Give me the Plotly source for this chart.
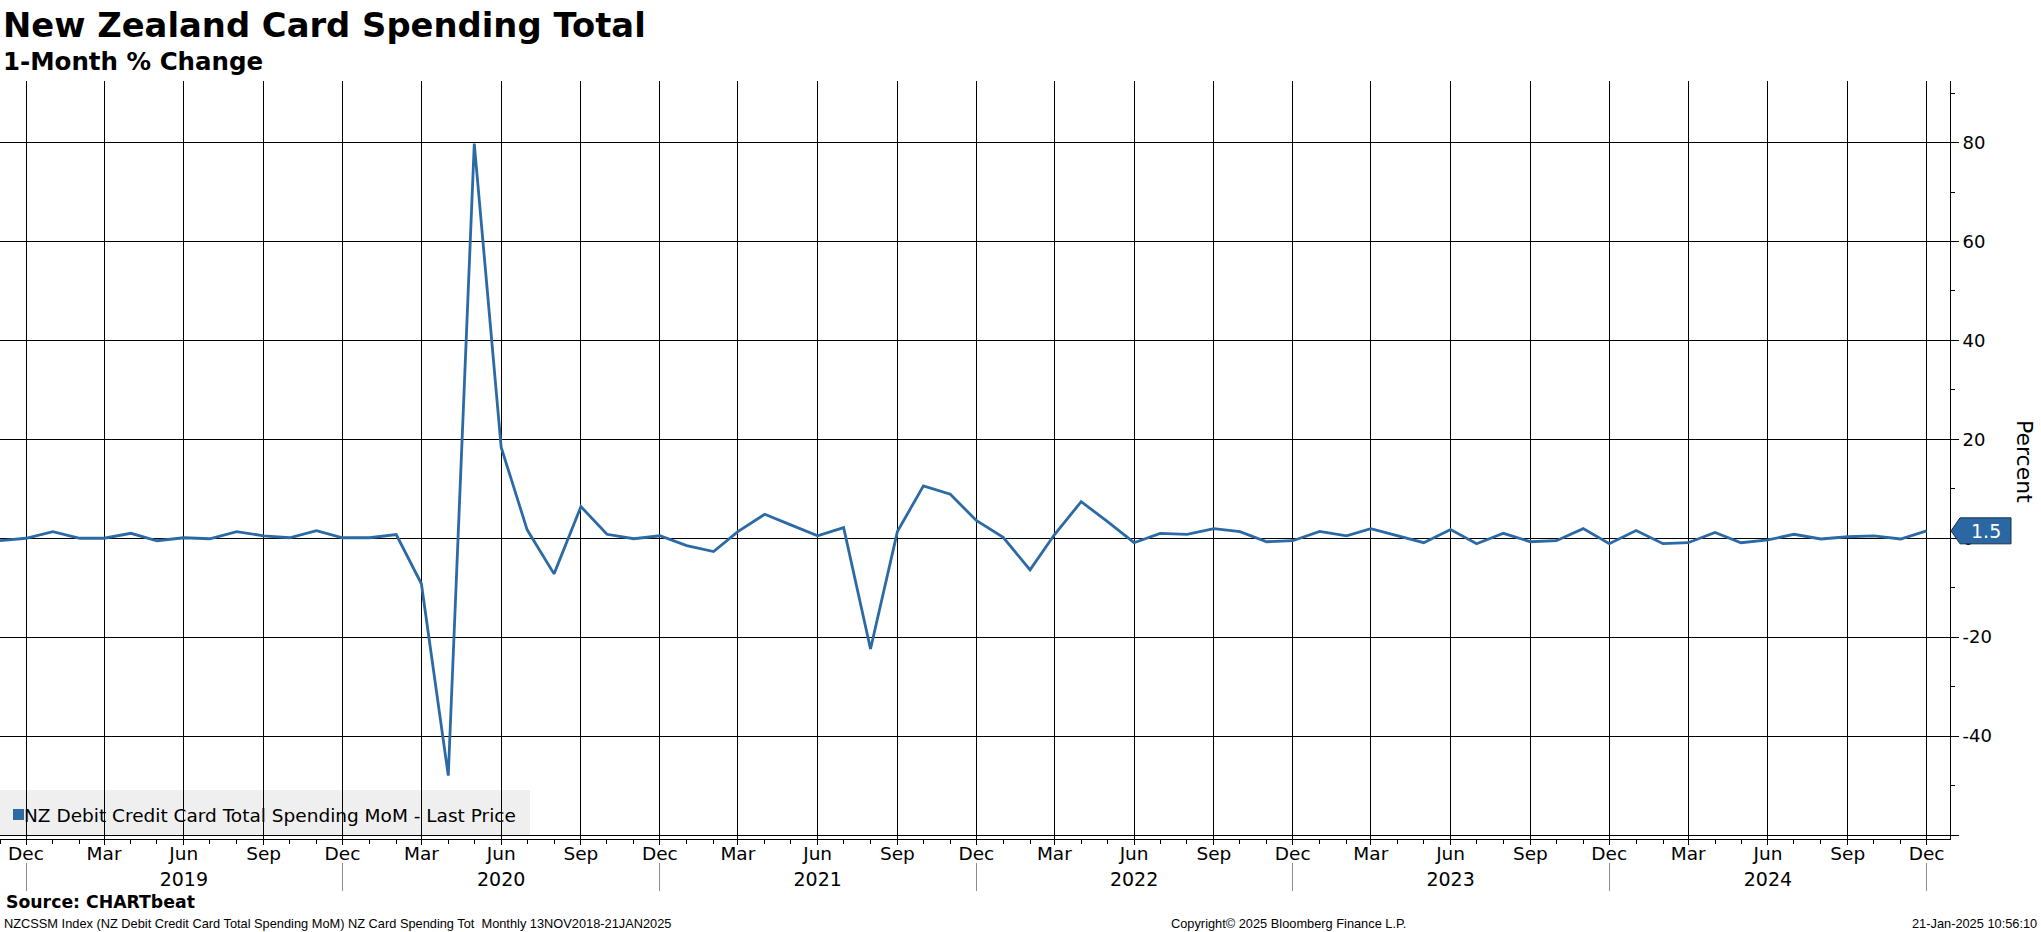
import plotly.graph_objects as go
import pandas as pd

# ---------------- data ----------------
START_MONTH = "2018-11-01"
values = [
    -0.5, 0.0,                                                        # 2018 Nov-Dec
    1.35, 0.0, 0.0, 1.0, -0.5, 0.1, -0.1, 1.35, 0.5, 0.1, 1.55, 0.1,    # 2019
    0.1, 0.75, -9.2, -48.0, 79.8, 18.4, 1.7, -7.2, 6.4, 0.8, -0.1, 0.5, # 2020
    -1.5, -2.7, 1.35, 4.85, 2.7, 0.5, 2.15, -22.4, 1.35, 10.6, 8.9, 3.6,# 2021
    0.2, -6.4, 0.7, 7.4, 3.4, -0.9, 1.0, 0.8, 1.95, 1.35, -0.7, -0.5,   # 2022
    1.4, 0.5, 1.95, 0.5, -0.9, 1.75, -1.1, 1.0, -0.7, -0.5, 1.95, -1.1, # 2023
    1.55, -1.1, -0.9, 1.15, -0.9, -0.35, 0.8, -0.15, 0.3, 0.5, -0.15, 1.5,  # 2024
]
months = pd.date_range(START_MONTH, periods=len(values), freq="MS")

Y_TICKS = [-60, -40, -20, 0, 20, 40, 60, 80]
Y_TICKTEXT = ["", "-40", "-20", "0", "20", "40", "60", "80"]

TITLE = "New Zealand Card Spending Total"
SUBTITLE = "1-Month % Change"
SERIES_NAME = "NZ Debit Credit Card Total Spending MoM - Last Price"
SOURCE = "Source: CHARTbeat"
FOOT_LEFT = "NZCSSM Index (NZ Debit Credit Card Total Spending MoM) NZ Card Spending Tot\u00a0\u00a0Monthly 13NOV2018-21JAN2025"
FOOT_MID = "Copyright\u00a9 2025 Bloomberg Finance L.P."
FOOT_RIGHT = "21-Jan-2025 10:56:10"
Y_TITLE = "Percent"

# ---------------- layout geometry ----------------
W, H = 2041, 932
ML, MR, MT, MB = 0, 91, 81, 0
PLOT_BOTTOM = 839
LINE_COLOR = "#2c6aa5"
FONT = "DejaVu Sans"
FONT_N = "Liberation Sans"


def py(Y):
    return (H - MB - Y) / (H - MT - MB)


def px(X):
    return (X - ML) / (W - ML - MR)


X_RANGE = ["2018-11-01", "2024-12-28"]
Y_RANGE = [-60.8, 92.44]
y_per_px = (Y_RANGE[1] - Y_RANGE[0]) / (PLOT_BOTTOM - MT)

fig = go.Figure()
fig.add_trace(go.Scatter(
    x=months, y=values, mode="lines",
    line=dict(color=LINE_COLOR, width=2.8),
    name=SERIES_NAME, showlegend=False, hoverinfo="x+y",
))
# same series bound to the helper x-axis (year labels / year separators), invisible
fig.add_trace(go.Scatter(
    x=months, y=values, mode="lines", xaxis="x2", yaxis="y",
    line=dict(color="rgba(0,0,0,0)", width=0),
    showlegend=False, hoverinfo="skip",
))

axis_font = dict(family=FONT, size=18.5, color="black")

fig.update_layout(
    width=W, height=H,
    margin=dict(l=ML, r=MR, t=MT, b=MB, pad=0),
    paper_bgcolor="white", plot_bgcolor="white",
    showlegend=False,
    xaxis=dict(
        type="date", range=X_RANGE, domain=[0, 1],
        tickmode="linear", tick0="2018-12-01", dtick="M3", tickformat="%b",
        showgrid=True, gridcolor="black", gridwidth=1,
        ticks="outside", ticklen=5, tickcolor="black", tickwidth=1,
        showline=True, linecolor="black", linewidth=1,
        minor=dict(dtick="M1", tick0="2018-12-01", ticks="outside", ticklen=4,
                   tickcolor="black", showgrid=False),
        tickfont=axis_font, zeroline=False, automargin=False,
        ticklabelstandoff=-7,
    ),
    xaxis2=dict(
        type="date", range=X_RANGE, overlaying="x", anchor="free",
        position=py(862), side="bottom",
        tickmode="linear", tick0="2019-06-01", dtick="M12", tickformat="%Y",
        showgrid=False, ticks="", showline=False, zeroline=False,
        minor=dict(tick0="2018-12-01", dtick="M12", ticks="outside", ticklen=28,
                   tickcolor="#8c8c8c", tickwidth=1, showgrid=False),
        tickfont=dict(family=FONT, size=19, color="black"), automargin=False,
        ticklabelstandoff=4,
    ),
    yaxis=dict(
        range=Y_RANGE, domain=[py(PLOT_BOTTOM), 1], side="right",
        tickmode="array", tickvals=Y_TICKS, ticktext=Y_TICKTEXT,
        showgrid=True, gridcolor="black", gridwidth=1,
        ticks="outside", ticklen=8, tickcolor="black", tickwidth=1,
        minor=dict(tickmode="linear", tick0=0, dtick=10, ticks="outside",
                   ticklen=4, tickcolor="black", showgrid=False),
        showline=True, linecolor="black", linewidth=1,
        tickfont=dict(family=FONT, size=18, color="black"),
        zeroline=False, automargin=False, ticklabelstandoff=0,
    ),
)

shapes = []
# legend box
shapes.append(dict(type="rect", xref="paper", yref="paper",
                   x0=px(0), x1=px(530), y0=py(835), y1=py(790),
                   fillcolor="#efefef", line=dict(width=0), layer="below"))
shapes.append(dict(type="rect", xref="paper", yref="paper",
                   x0=px(13), x1=px(24), y0=py(820), y1=py(809),
                   fillcolor=LINE_COLOR, line=dict(width=0), layer="above"))
# last value tag (pentagon pointing to the axis)
last = values[-1]
hh = 13 * y_per_px
shapes.append(dict(type="path", xref="paper", yref="y",
                   path=(f"M {px(1951)},{last} L {px(1960)},{last + hh} L {px(2011)},{last + hh} "
                         f"L {px(2011)},{last - hh} L {px(1960)},{last - hh} Z"),
                   fillcolor="#2a67a3", line=dict(color="#17324f", width=1), layer="above"))
fig.update_layout(shapes=shapes)

ann = []
ann.append(dict(text=f"<b>{TITLE}</b>", xref="paper", yref="paper", x=px(1), y=py(26),
                xanchor="left", yanchor="middle", showarrow=False,
                font=dict(family=FONT, size=33.8, color="black")))
ann.append(dict(text=f"<b>{SUBTITLE}</b>", xref="paper", yref="paper", x=px(1), y=py(61),
                xanchor="left", yanchor="middle", showarrow=False,
                font=dict(family=FONT, size=24.5, color="black")))
ann.append(dict(text=SERIES_NAME, xref="paper", yref="paper", x=px(22), y=py(815),
                xanchor="left", yanchor="middle", showarrow=False,
                font=dict(family=FONT, size=18.5, color="black")))
ann.append(dict(text=f"{last}", xref="paper", yref="y", x=px(1986), y=last,
                xanchor="center", yanchor="middle", showarrow=False,
                font=dict(family=FONT, size=19, color="white")))
ann.append(dict(text=Y_TITLE, xref="paper", yref="paper", x=px(2025), y=py(461),
                xanchor="center", yanchor="middle", showarrow=False, textangle=90,
                font=dict(family=FONT, size=22, color="black")))
ann.append(dict(text=f"<b>{SOURCE}</b>", xref="paper", yref="paper", x=px(4), y=py(902),
                xanchor="left", yanchor="middle", showarrow=False,
                font=dict(family=FONT, size=17.3, color="black")))
ann.append(dict(text=FOOT_LEFT, xref="paper", yref="paper", x=px(2), y=py(923),
                xanchor="left", yanchor="middle", showarrow=False,
                font=dict(family=FONT_N, size=12.8, color="black")))
ann.append(dict(text=FOOT_MID, xref="paper", yref="paper", x=px(1169), y=py(923),
                xanchor="left", yanchor="middle", showarrow=False,
                font=dict(family=FONT_N, size=12.8, color="black")))
ann.append(dict(text=FOOT_RIGHT, xref="paper", yref="paper", x=px(2039), y=py(923),
                xanchor="right", yanchor="middle", showarrow=False,
                font=dict(family=FONT_N, size=12.8, color="black")))
fig.update_layout(annotations=ann)

fig.write_html(
    "out.html",
    config={"displayModeBar": False},
    post_script="document.body.style.margin='0';document.body.style.overflow='hidden';",
)
